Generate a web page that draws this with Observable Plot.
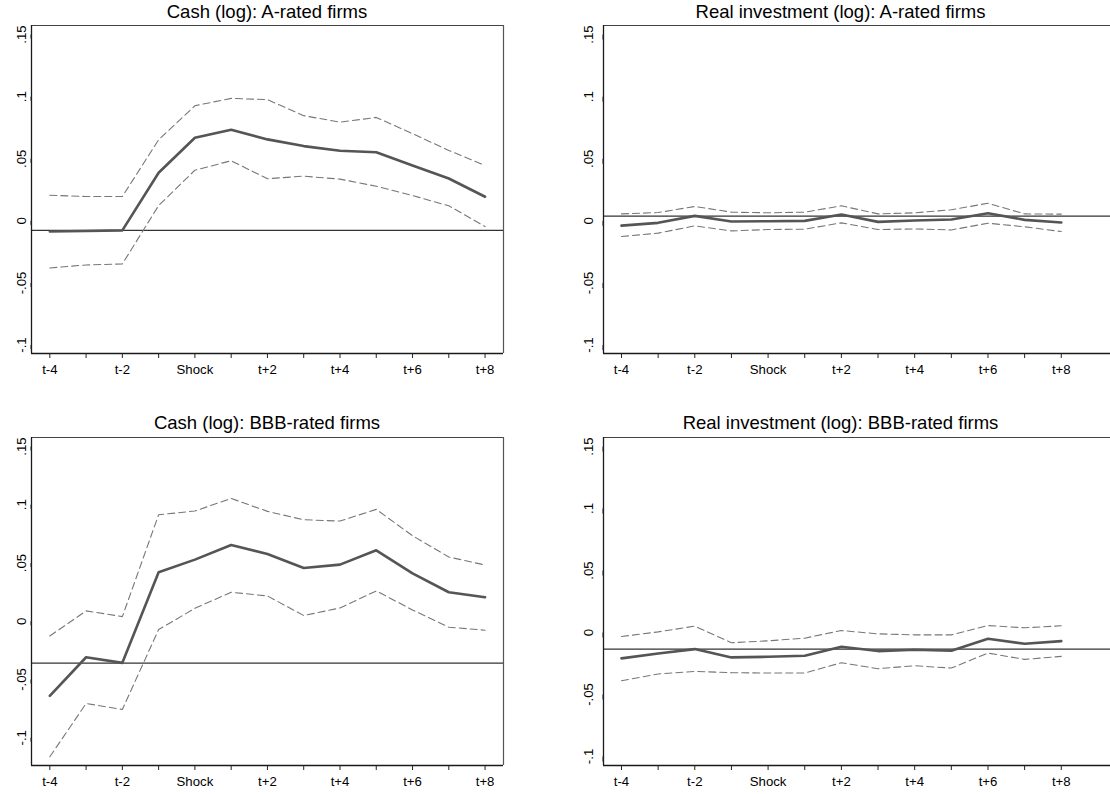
<!DOCTYPE html>
<html>
<head>
<meta charset="utf-8">
<script src="https://cdn.jsdelivr.net/npm/d3@7"></script>
<script src="https://cdn.jsdelivr.net/npm/@observablehq/plot@0.6"></script>
<style>
  html, body { margin: 0; padding: 0; background: #fff; overflow: hidden; }
  #root { position: relative; width: 1110px; height: 794px; background: #fff; overflow: hidden; font-family: "Liberation Sans", Arial, sans-serif; }
  .panel { position: absolute; overflow: hidden; }
  .panel svg { max-width: none !important; display: block; }
  .title { position: absolute; font-size: 18.5px; line-height: 18.5px; white-space: nowrap; color: #000; transform: translateX(-50%); }
</style>
</head>
<body>
<div id="root"></div>
<script>
// ---------- data ----------
const periods = ["t-4","t-3","t-2","t-1","Shock","t+1","t+2","t+3","t+4","t+5","t+6","t+7","t+8"];
const periodOffset = [-4,-3,-2,-1,0,1,2,3,4,5,6,7,8];

const yTicks = [-0.1, -0.05, 0, 0.05, 0.1, 0.15];
const yTickLabels = ["-.1", "-.05", "0", ".05", ".1", ".15"];

// Cash (log): A-rated firms
const cashA_est   = [-0.0086, -0.0082, -0.0077, 0.0387, 0.0669, 0.0734, 0.0656, 0.0602, 0.0565, 0.0553, 0.0446, 0.0341, 0.0194];
const cashA_upper = [0.0206, 0.0196, 0.0196, 0.0653, 0.0927, 0.0986, 0.0976, 0.0847, 0.0795, 0.0833, 0.0702, 0.0567, 0.0446];
const cashA_lower = [-0.0379, -0.0355, -0.0347, 0.0123, 0.0408, 0.0484, 0.0339, 0.0360, 0.0336, 0.0279, 0.0204, 0.0121, -0.0046];
const cashA_ref = -0.0076;

// Real investment (log): A-rated firms
const invA_est   = [-0.0038, -0.0016, 0.0040, -0.0005, -0.0003, 0.0000, 0.0051, -0.0008, 0.0003, 0.0011, 0.0062, 0.0008, -0.0013];
const invA_upper = [0.0056, 0.0067, 0.0116, 0.0070, 0.0065, 0.0070, 0.0121, 0.0056, 0.0065, 0.0089, 0.0142, 0.0056, 0.0054];
const invA_lower = [-0.0126, -0.0099, -0.0040, -0.0081, -0.0070, -0.0067, -0.0016, -0.0070, -0.0065, -0.0073, -0.0019, -0.0048, -0.0086];
const invA_ref = 0.0038;

// Cash (log): BBB-rated firms
const cashBBB_est   = [-0.0640, -0.0309, -0.0357, 0.0420, 0.0529, 0.0654, 0.0577, 0.0457, 0.0486, 0.0609, 0.0411, 0.0249, 0.0206];
const cashBBB_upper = [-0.0126, 0.0089, 0.0040, 0.0914, 0.0946, 0.1054, 0.0943, 0.0871, 0.0860, 0.0960, 0.0734, 0.0551, 0.0483];
const cashBBB_lower = [-0.1163, -0.0706, -0.0757, -0.0071, 0.0111, 0.0249, 0.0217, 0.0049, 0.0114, 0.0260, 0.0097, -0.0051, -0.0077];
const cashBBB_ref = -0.0360;

// Real investment (log): BBB-rated firms
const invBBB_est   = [-0.0209, -0.0169, -0.0134, -0.0201, -0.0196, -0.0188, -0.0115, -0.0150, -0.0139, -0.0147, -0.0051, -0.0091, -0.0070];
const invBBB_upper = [-0.0032, 0.0005, 0.0051, -0.0083, -0.0067, -0.0046, 0.0016, -0.0011, -0.0019, -0.0019, 0.0056, 0.0038, 0.0054];
const invBBB_lower = [-0.0389, -0.0335, -0.0314, -0.0324, -0.0327, -0.0327, -0.0244, -0.0292, -0.0268, -0.0287, -0.0166, -0.0217, -0.0193];
const invBBB_ref = -0.0134;

const titles = [
  "Cash (log): A-rated firms",
  "Real investment (log): A-rated firms",
  "Cash (log): BBB-rated firms",
  "Real investment (log): BBB-rated firms"
];

// ---------- layout ----------
const root = document.getElementById("root");

function panel(cfg) {
  const {est, upper, lower, ref, title, left, top, width, height, xDomain, yDomain,
         marginRight, rightBorder, yPad, yTick, titleX, titleTop} = cfg;
  const xOf = (d, i) => periodOffset[i];
  const marks = [
    Plot.ruleY([yDomain[1]], {stroke: "#444", strokeWidth: 1.2}),
    rightBorder ? Plot.ruleX([xDomain[1]], {stroke: "#555", strokeWidth: 1.2}) : null,
    Plot.ruleY([ref], {stroke: "#333", strokeWidth: 1.2}),
    Plot.line(upper, {x: xOf, y: d => d, stroke: "#777", strokeWidth: 1.1, strokeDasharray: "7,4"}),
    Plot.line(lower, {x: xOf, y: d => d, stroke: "#777", strokeWidth: 1.1, strokeDasharray: "7,4"}),
    Plot.line(est, {x: xOf, y: d => d, stroke: "#555", strokeWidth: 2.6, strokeLinejoin: "round"}),
    Plot.ruleX([xDomain[0]], {stroke: "#1a1a1a", strokeWidth: 1.3}),
    Plot.ruleY([yDomain[0]], {stroke: "#1a1a1a", strokeWidth: 1.3}),
    Plot.axisX(periodOffset, {
      tickSize: 5, tickPadding: 6, stroke: "#222", fontSize: 13.2,
      tickFormat: d => (d % 2 === 0 ? periods[periodOffset.indexOf(d)] : "")
    }),
    Plot.axisY(yTicks, {
      tickSize: yTick, tickPadding: yPad, stroke: "#222", fontSize: 13.2,
      tickFormat: d => yTickLabels[yTicks.indexOf(d)],
      rotate: -90, textAnchor: "middle"
    })
  ].filter(Boolean);

  const chart = Plot.plot({
    width, height,
    marginLeft: 31, marginRight, marginTop: 2, marginBottom: 36,
    x: {domain: xDomain},
    y: {domain: yDomain},
    style: {fontFamily: '"Liberation Sans", Arial, sans-serif', fontSize: "13.2px", color: "#000", background: "transparent", overflow: "visible", maxWidth: "none"},
    marks
  });
  const wrap = document.createElement("div");
  wrap.className = "panel";
  wrap.style.left = left + "px";
  wrap.style.top = top + "px";
  wrap.style.width = width + "px";
  wrap.style.height = height + "px";
  wrap.appendChild(chart);
  root.appendChild(wrap);

  const t = document.createElement("div");
  t.className = "title";
  t.textContent = title;
  t.style.left = titleX + "px";
  t.style.top = titleTop + "px";
  root.appendChild(t);
}

const leftX = [-4.505, 8.508];
// right-hand panels: plot region runs to the right edge of the figure
const rightX = [-4.491, 9.343];

panel({est: cashA_est, upper: cashA_upper, lower: cashA_lower, ref: cashA_ref, title: titles[0],
  left: 0, top: 23, width: 507, height: 366, marginRight: 4, rightBorder: true, yTick: 4, yPad: 6,
  xDomain: leftX, yDomain: [-0.1068, 0.1573], titleX: 267, titleTop: 2.5});

panel({est: invA_est, upper: invA_upper, lower: invA_lower, ref: invA_ref, title: titles[1],
  left: 572, top: 23, width: 538, height: 366, marginRight: 0, rightBorder: false, yTick: 5, yPad: 9.5,
  xDomain: rightX, yDomain: [-0.1068, 0.1573], titleX: 840.5, titleTop: 2.5});

panel({est: cashBBB_est, upper: cashBBB_upper, lower: cashBBB_lower, ref: cashBBB_ref, title: titles[2],
  left: 0, top: 435, width: 507, height: 366, marginRight: 4, rightBorder: true, yTick: 4, yPad: 6,
  xDomain: leftX, yDomain: [-0.1238, 0.1577], titleX: 267, titleTop: 414});

panel({est: invBBB_est, upper: invBBB_upper, lower: invBBB_lower, ref: invBBB_ref, title: titles[3],
  left: 572, top: 435, width: 538, height: 366, marginRight: 0, rightBorder: false, yTick: 5, yPad: 9.5,
  xDomain: rightX, yDomain: [-0.1073, 0.1573], titleX: 840.5, titleTop: 414});
</script>
</body>
</html>
